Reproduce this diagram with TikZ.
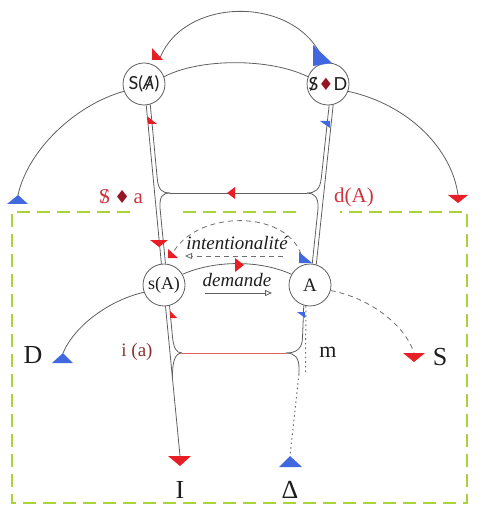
\documentclass[tikz,border=0pt]{standalone}
\usepackage{fontspec}
\setmainfont{Liberation Serif}
\newfontfamily\humfont{Lato}
\newfontfamily\dvfont{DejaVu Sans}
\usetikzlibrary{arrows.meta}
\definecolor{lgray}{RGB}{95,95,95}
\definecolor{dgray}{RGB}{110,110,110}
\definecolor{tred}{RGB}{232,30,38}
\definecolor{tblue}{RGB}{66,104,224}
\definecolor{lred}{RGB}{206,52,62}
\definecolor{dred}{RGB}{150,20,35}
\definecolor{ired}{RGB}{140,50,50}
\definecolor{pred}{RGB}{222,95,95}
\definecolor{fgreen}{RGB}{168,212,58}
\definecolor{txt}{RGB}{30,30,30}
\newcommand{\lacanS}{\ooalign{S\cr\hidewidth/\hidewidth\cr}}
\newcommand{\lacanA}{\ooalign{\itshape A\cr\hidewidth/\hidewidth\cr}}
\newcommand{\fs}[1]{\fontsize{#1}{#1}\selectfont}
\begin{document}
\begin{tikzpicture}[x=1pt,y=-1pt,
  ln/.style={draw=lgray, line width=0.8pt},
  dl/.style={draw=dgray, line width=0.8pt, dash pattern=on 5pt off 4pt},
  dt/.style={draw=dgray, line width=1pt, dash pattern=on 1.6pt off 3pt},
  circ/.style={circle, draw=lgray, line width=0.8pt, fill=white, minimum size=42pt, inner sep=0pt, text=txt},
  frame/.style={draw=fgreen, line width=2pt, dash pattern=on 13pt off 7pt},
  big/.style={text=txt, font=\fs{26}},
  opentip/.style={-{Triangle[open, length=7pt, width=6pt]}}
]
\useasboundingbox (0,0) rectangle (483,510);

% frame
\draw[frame] (130,212) -- (12,212) -- (12,503) -- (467,503) -- (467,212) -- (340,212);
\draw[frame] (183,212) -- (303,212);

% circles
\node[circ] (SA) at (144,84) {\humfont\fs{18}S(\lacanA)};
\node[circ] (SD) at (328,84) {\humfont\fs{18}\lacanS{\color{dred}\dvfont\fs{17}♦}D};
\node[circ] (sa) at (164,285) {\fs{18}s(A)};
\node[circ] (A) at (310,285) {\fs{19}A};

% coordinates
\coordinate (cuL) at (170,193);
\coordinate (cuR) at (307,193);
\coordinate (cbL) at (182,353);
\coordinate (cbR) at (286,353);
\coordinate (tipBL) at (18,195);
\coordinate (tipRR) at (458,195);
\coordinate (tipD) at (63,353);
\coordinate (tipS) at (414,353);
\coordinate (tipI) at (180,456);
\coordinate (tipDel) at (290,456);
\coordinate (endA) at (299,374);
\coordinate (taSA) at (160,58);
\coordinate (iaS) at (301,254);
\coordinate (iaE) at (174,251);
\coordinate (iarS) at (283,256);
\coordinate (iarE) at (185,256);
\coordinate (darS) at (205,293);
\coordinate (darE) at (272,293);

% arcs
\draw[ln] (SD.100) .. controls (300,-5) and (185,-5) .. (taSA);
\draw[ln] (SA.20) .. controls (200,58) and (270,58) .. (SD.160);
\draw[ln] (SA.200) .. controls (75,105) and (28,150) .. (tipBL);
\draw[ln] (SD.-20) .. controls (410,105) and (452,150) .. (tipRR);
\draw[ln] (sa.30) .. controls (215,260) and (260,260) .. (A.150);
\draw[ln] (sa.200) .. controls (110,300) and (75,325) .. (tipD);
\draw[dl] (A.-15) .. controls (370,298) and (405,325) .. (tipS);
\draw[dl] (iaS) .. controls (285,210) and (200,210) .. (iaE);

% upper left double line with junction
\draw[ln] (SA.-84) -- (sa.97);
\draw[ln] (SA.-73) -- (157.2,178) .. controls (158.3,190) and (162,193) .. (cuL);
\draw[ln] (cuL) .. controls (162,193) and (159.5,197) .. (160,208) -- (sa.86);
% upper right double line with junction
\draw[ln] (SD.-76) -- (A.73);
\draw[ln] (SD.-87) -- (321.3,178) .. controls (320,190) and (315,193) .. (cuR);
\draw[ln] (cuR) .. controls (314,193) and (318.5,197) .. (318.1,208) -- (A.84);
\draw[ln] (cuL) -- (cuR);

% lower left
\draw[ln] (sa.-86) -- (tipI);
\draw[ln] (sa.-75) -- (172.3,335) .. controls (173.5,348) and (176,353) .. (cbL);
\draw[ln] (cbL) .. controls (175,353) and (172,362) .. (172.6,378);
% lower right
\draw[ln] (A.-107) -- (302.5,338) .. controls (302,349) and (296,353) .. (cbR);
\draw[ln] (cbR) .. controls (295,353) and (299,358) .. (299,368) -- (endA);
\draw[dt] (A.-101) -- (305.5,372);
\draw[dt] (endA) -- (tipDel);
\draw[pred, line width=0.8pt] (cbL) -- (cbR);

% small arrows
\draw[dl, opentip] (iarS) -- (iarE);
\draw[ln, opentip] (darS) -- (darE);

% blue triangles
\fill[tblue] (7,204) -- (28,204) -- (18,195) -- cycle;
\fill[tblue] (52,363) -- (73,363) -- (63,353) -- cycle;
\fill[tblue] (279,467) -- (302,467) -- (290,456) -- cycle;
\fill[tblue] (313,45) -- (313,66) -- (332,63) -- cycle;
\fill[tblue] (299,252) -- (299,263) -- (312,263) -- cycle;
\fill[tblue] (320,121) -- (330,121) -- (330,128) -- cycle;
\fill[tblue] (297,312) -- (305,312) -- (305,318) -- cycle;
% red triangles
\fill[tred] (448,195) -- (468,195) -- (458,203) -- cycle;
\fill[tred] (403,353) -- (425,353) -- (414,362) -- cycle;
\fill[tred] (168,456) -- (191,456) -- (180,466) -- cycle;
\fill[tred] (152,48) -- (152,60) -- (163,60) -- cycle;
\fill[tred] (148,117) -- (148,124) -- (157,124) -- cycle;
\fill[tred] (227,193) -- (235,187) -- (235,199) -- cycle;
\fill[tred] (150,240) -- (168,240) -- (159,247) -- cycle;
\fill[tred] (168,249) -- (168,258) -- (178,258) -- cycle;
\fill[tred] (235,258) -- (235,272) -- (244,265) -- cycle;
\fill[tred] (170,311) -- (170,318) -- (177,318) -- cycle;

% labels
\node[text=lred, font=\fs{21}] (lSa) at (121,197) {\lacanS\,{\color{dred}\dvfont\fs{18}♦}\,a};
\node[text=lred, font=\fs{21}] (ldA) at (354,197) {d(A)};
\node[text=txt, font=\fs{19}\itshape] (lint) at (237,243) {intentionalité};
\node[text=txt, font=\fs{19}\itshape] (ldem) at (237,280) {demande};
\node[big] (lD) at (33,355) {D};
\node[big] (lS) at (440,357) {S};
\node[big] (lI) at (180,490) {I};
\node[big] (lDel) at (290,490) {Δ};
\node[text=txt, font=\fs{22}] (lm) at (328,352) {m};
\node[text=ired, font=\fs{19}] (lia) at (137,352) {i (a)};
\end{tikzpicture}
\end{document}
